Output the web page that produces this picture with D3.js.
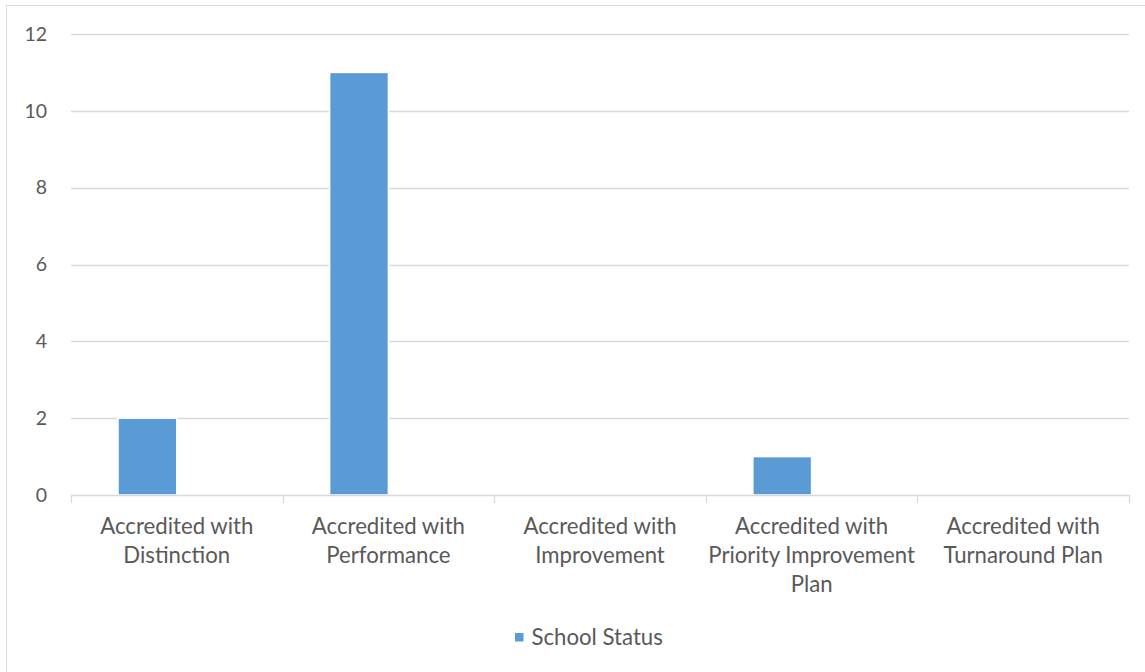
<!DOCTYPE html>
<html>
<head>
<meta charset="utf-8">
<script src="https://cdn.jsdelivr.net/npm/d3@7"></script>
<style>
  html, body { margin: 0; padding: 0; background: #fff; }
  svg { display: block; }
  text { font-family: Lato, "Open Sans", "Liberation Sans", sans-serif; fill: #595959; }
</style>
</head>
<body>
<svg id="chart" width="1145" height="672"></svg>
<script>
// ---- data ----
const categories = [
  "Accredited with Distinction",
  "Accredited with Performance",
  "Accredited with Improvement",
  "Accredited with Priority Improvement Plan",
  "Accredited with Turnaround Plan"
];
const categoryLabelLines = [
  ["Accredited with", "Distinction"],
  ["Accredited with", "Performance"],
  ["Accredited with", "Improvement"],
  ["Accredited with", "Priority Improvement", "Plan"],
  ["Accredited with", "Turnaround Plan"]
];
const seriesNames = ["School Status", ""];
const schoolStatus = [2, 11, 0, 1, 0];
const yTicks = [0, 2, 4, 6, 8, 10, 12];

// ---- layout ----
const svg = d3.select("#chart");
const W = 1145, H = 672;
const plot = { left: 71, right: 1129, top: 34, bottom: 495 };
const barColor = "#5b9bd5";
const gridColor = "#d9d9d9";

// chart border (top & left visible)
svg.append("rect")
  .attr("x", 6.5).attr("y", 5.5)
  .attr("width", W + 10).attr("height", H + 10)
  .attr("fill", "#fff").attr("stroke", "#d9d9d9").attr("stroke-width", 1);

const x0 = d3.scaleBand().domain(categories).range([plot.left, plot.right]).paddingInner(0).paddingOuter(0);
const x1 = d3.scaleBand().domain(seriesNames).range([0, x0.bandwidth()]).paddingInner(0).paddingOuter(0.8);
const y = d3.scaleLinear().domain([0, 12]).range([plot.bottom, plot.top]);

// gridlines
svg.append("g").selectAll("line").data(yTicks.filter(d => d > 0)).join("line")
  .attr("x1", plot.left).attr("x2", plot.right)
  .attr("y1", d => Math.round(y(d)) + 0.5).attr("y2", d => Math.round(y(d)) + 0.5)
  .attr("stroke", gridColor).attr("stroke-width", 1.3);

// y labels
svg.append("g").selectAll("text").data(yTicks).join("text")
  .attr("x", 47).attr("y", d => y(d))
  .attr("dy", "0.35em")
  .attr("text-anchor", "end")
  .attr("font-size", 19.5)
  .text(d => d);

// bars
svg.append("g").selectAll("rect").data(schoolStatus.map((v, i) => ({ cat: categories[i], v }))).join("rect")
  .attr("x", d => x0(d.cat) + x1(seriesNames[0]))
  .attr("y", d => y(d.v))
  .attr("width", x1.bandwidth())
  .attr("height", d => y(0) - y(d.v))
  .attr("fill", barColor)
  .attr("stroke", "#fff").attr("stroke-width", 1.5);

// x axis line + ticks
const axisG = svg.append("g");
axisG.append("line")
  .attr("x1", plot.left).attr("x2", plot.right)
  .attr("y1", plot.bottom + 0.5).attr("y2", plot.bottom + 0.5)
  .attr("stroke", gridColor).attr("stroke-width", 1.3);
const tickXs = categories.map(c => x0(c)).concat([plot.right]);
axisG.selectAll("line.tick").data(tickXs).join("line")
  .attr("class", "tick")
  .attr("x1", d => Math.round(d) + 0.5).attr("x2", d => Math.round(d) + 0.5)
  .attr("y1", plot.bottom).attr("y2", plot.bottom + 8)
  .attr("stroke", gridColor).attr("stroke-width", 1.3);

// category labels
const labG = svg.append("g");
categories.forEach((c, i) => {
  const t = labG.append("text")
    .attr("x", x0(c) + x0.bandwidth() / 2)
    .attr("text-anchor", "middle")
    .attr("font-size", 22.2);
  categoryLabelLines[i].forEach((line, j) => {
    t.append("tspan").attr("x", x0(c) + x0.bandwidth() / 2).attr("y", 534 + j * 29).text(line);
  });
});

// legend
const leg = svg.append("g");
leg.append("rect").attr("x", 515).attr("y", 633).attr("width", 8.5).attr("height", 8.5).attr("fill", barColor);
leg.append("text").attr("x", 531.5).attr("y", 645).attr("font-size", 22.2).text(seriesNames[0]);
</script>
</body>
</html>
